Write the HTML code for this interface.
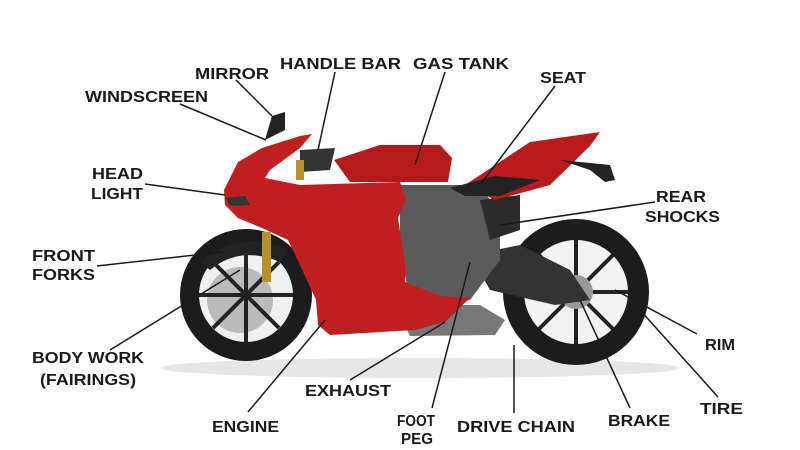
<!DOCTYPE html>
<html><head><meta charset="utf-8"><style>
html,body{margin:0;padding:0;background:#fff;width:800px;height:450px;overflow:hidden}
text{font-family:"Liberation Sans",sans-serif;font-weight:bold;font-size:16px;fill:#1a1a1a}
</style></head><body>
<svg width="800" height="450" viewBox="0 0 800 450" xmlns="http://www.w3.org/2000/svg">
<rect width="800" height="450" fill="#fff"/>
<ellipse cx="420" cy="368" rx="260" ry="10" fill="#e6e6e6"/>
<!-- rear wheel -->
<circle cx="576" cy="292" r="73" fill="#1c1c1c"/>
<circle cx="576" cy="292" r="52" fill="#f2f2f2"/>
<g stroke="#222" stroke-width="4">
<line x1="576" y1="240" x2="576" y2="344"/><line x1="524" y1="292" x2="628" y2="292"/>
<line x1="539" y1="255" x2="613" y2="329"/><line x1="613" y1="255" x2="539" y2="329"/>
</g>
<circle cx="576" cy="292" r="17" fill="#999"/>
<!-- front wheel -->
<circle cx="246" cy="295" r="66" fill="#1c1c1c"/>
<circle cx="246" cy="295" r="47" fill="#f0f0f0"/>
<circle cx="240" cy="300" r="33" fill="#bbb"/>
<g stroke="#222" stroke-width="4">
<line x1="246" y1="248" x2="246" y2="342"/><line x1="199" y1="295" x2="293" y2="295"/>
<line x1="213" y1="262" x2="279" y2="328"/><line x1="279" y1="262" x2="213" y2="328"/>
</g>
<!-- front fender/forks -->
<path d="M200,262 Q240,228 290,250 L280,262 Q240,245 210,270 Z" fill="#222"/>
<rect x="262" y="232" width="9" height="50" fill="#b8902a"/>
<!-- swingarm -->
<polygon points="470,255 520,245 570,270 590,300 555,305 490,290" fill="#333"/>
<!-- engine -->
<polygon points="400,185 480,185 500,215 500,260 470,300 410,300 400,250" fill="#5a5a5a"/>
<polygon points="480,200 520,195 520,230 490,240" fill="#2b2b2b"/>
<!-- exhaust -->
<polygon points="395,305 480,305 505,320 495,335 410,336" fill="#777"/>
<!-- tail -->
<polygon points="465,185 530,142 600,132 590,146 550,185 495,200" fill="#b81b1b"/>
<polygon points="560,160 610,165 615,180 605,182 590,170" fill="#222"/>
<polygon points="450,188 495,176 540,180 500,196 465,196" fill="#222"/>
<!-- main fairing -->
<path d="M224,190 L238,162 L262,148 L300,136 L312,134 L300,148 L270,170 L265,178 L300,185 L400,182 L406,200 L398,218 L402,245 L405,262 L405,282 L440,296 L470,298 L445,322 L415,330 L330,335 L318,325 L316,300 L300,265 L288,240 L262,228 L238,218 L225,205 Z" fill="#c01f1f"/>
<path d="M226,198 L245,196 L250,205 L230,206 Z" fill="#333"/>
<!-- tank -->
<path d="M334,160 L380,145 L440,145 L452,158 L448,182 L350,182 Z" fill="#b51a1a"/>
<!-- windscreen/mirror/bars -->
<path d="M265,140 L272,116 L285,112 L285,130 Z" fill="#222"/>
<path d="M300,150 L335,148 L330,170 L300,172 Z" fill="#333"/>
<rect x="296" y="160" width="8" height="20" fill="#b8902a"/>
<!-- leader lines -->
<g stroke="#1a1a1a" stroke-width="1.5">
<line x1="236" y1="80" x2="272" y2="116"/>
<line x1="335" y1="72" x2="318" y2="150"/>
<line x1="445" y1="72" x2="415" y2="165"/>
<line x1="555" y1="86" x2="480" y2="185"/>
<line x1="180" y1="104" x2="266" y2="140"/>
<line x1="145" y1="184" x2="225" y2="195"/>
<line x1="655" y1="202" x2="500" y2="225"/>
<line x1="97" y1="266" x2="222" y2="252"/>
<line x1="110" y1="350" x2="240" y2="270"/>
<line x1="248" y1="412" x2="325" y2="320"/>
<line x1="350" y1="380" x2="445" y2="322"/>
<line x1="432" y1="408" x2="470" y2="262"/>
<line x1="514" y1="413" x2="514" y2="345"/>
<line x1="630" y1="408" x2="580" y2="300"/>
<line x1="718" y1="397" x2="640" y2="310"/>
<line x1="697" y1="334" x2="615" y2="290"/>
</g>
<!-- labels -->
<text x="195" y="79" textLength="74" lengthAdjust="spacingAndGlyphs">MIRROR</text>
<text x="280" y="69" textLength="121" lengthAdjust="spacingAndGlyphs">HANDLE BAR</text>
<text x="413" y="69" textLength="96" lengthAdjust="spacingAndGlyphs">GAS TANK</text>
<text x="540" y="83" textLength="46" lengthAdjust="spacingAndGlyphs">SEAT</text>
<text x="85" y="102" textLength="123" lengthAdjust="spacingAndGlyphs">WINDSCREEN</text>
<text x="92" y="179" textLength="51" lengthAdjust="spacingAndGlyphs">HEAD</text>
<text x="91" y="199" textLength="52" lengthAdjust="spacingAndGlyphs">LIGHT</text>
<text x="656" y="202" textLength="50" lengthAdjust="spacingAndGlyphs">REAR</text>
<text x="645" y="222" textLength="75" lengthAdjust="spacingAndGlyphs">SHOCKS</text>
<text x="32" y="261" textLength="63" lengthAdjust="spacingAndGlyphs">FRONT</text>
<text x="32" y="280" textLength="63" lengthAdjust="spacingAndGlyphs">FORKS</text>
<text x="705" y="350" textLength="30" lengthAdjust="spacingAndGlyphs">RIM</text>
<text x="32" y="363" textLength="112" lengthAdjust="spacingAndGlyphs">BODY WORK</text>
<text x="40" y="385" textLength="96" lengthAdjust="spacingAndGlyphs">(FAIRINGS)</text>
<text x="305" y="396" textLength="86" lengthAdjust="spacingAndGlyphs">EXHAUST</text>
<text x="700" y="414" textLength="43" lengthAdjust="spacingAndGlyphs">TIRE</text>
<text x="397" y="426" textLength="38" lengthAdjust="spacingAndGlyphs">FOOT</text>
<text x="401" y="444" textLength="32" lengthAdjust="spacingAndGlyphs">PEG</text>
<text x="457" y="432" textLength="118" lengthAdjust="spacingAndGlyphs">DRIVE CHAIN</text>
<text x="608" y="426" textLength="62" lengthAdjust="spacingAndGlyphs">BRAKE</text>
<text x="212" y="432" textLength="67" lengthAdjust="spacingAndGlyphs">ENGINE</text>
</svg>
</body></html>
